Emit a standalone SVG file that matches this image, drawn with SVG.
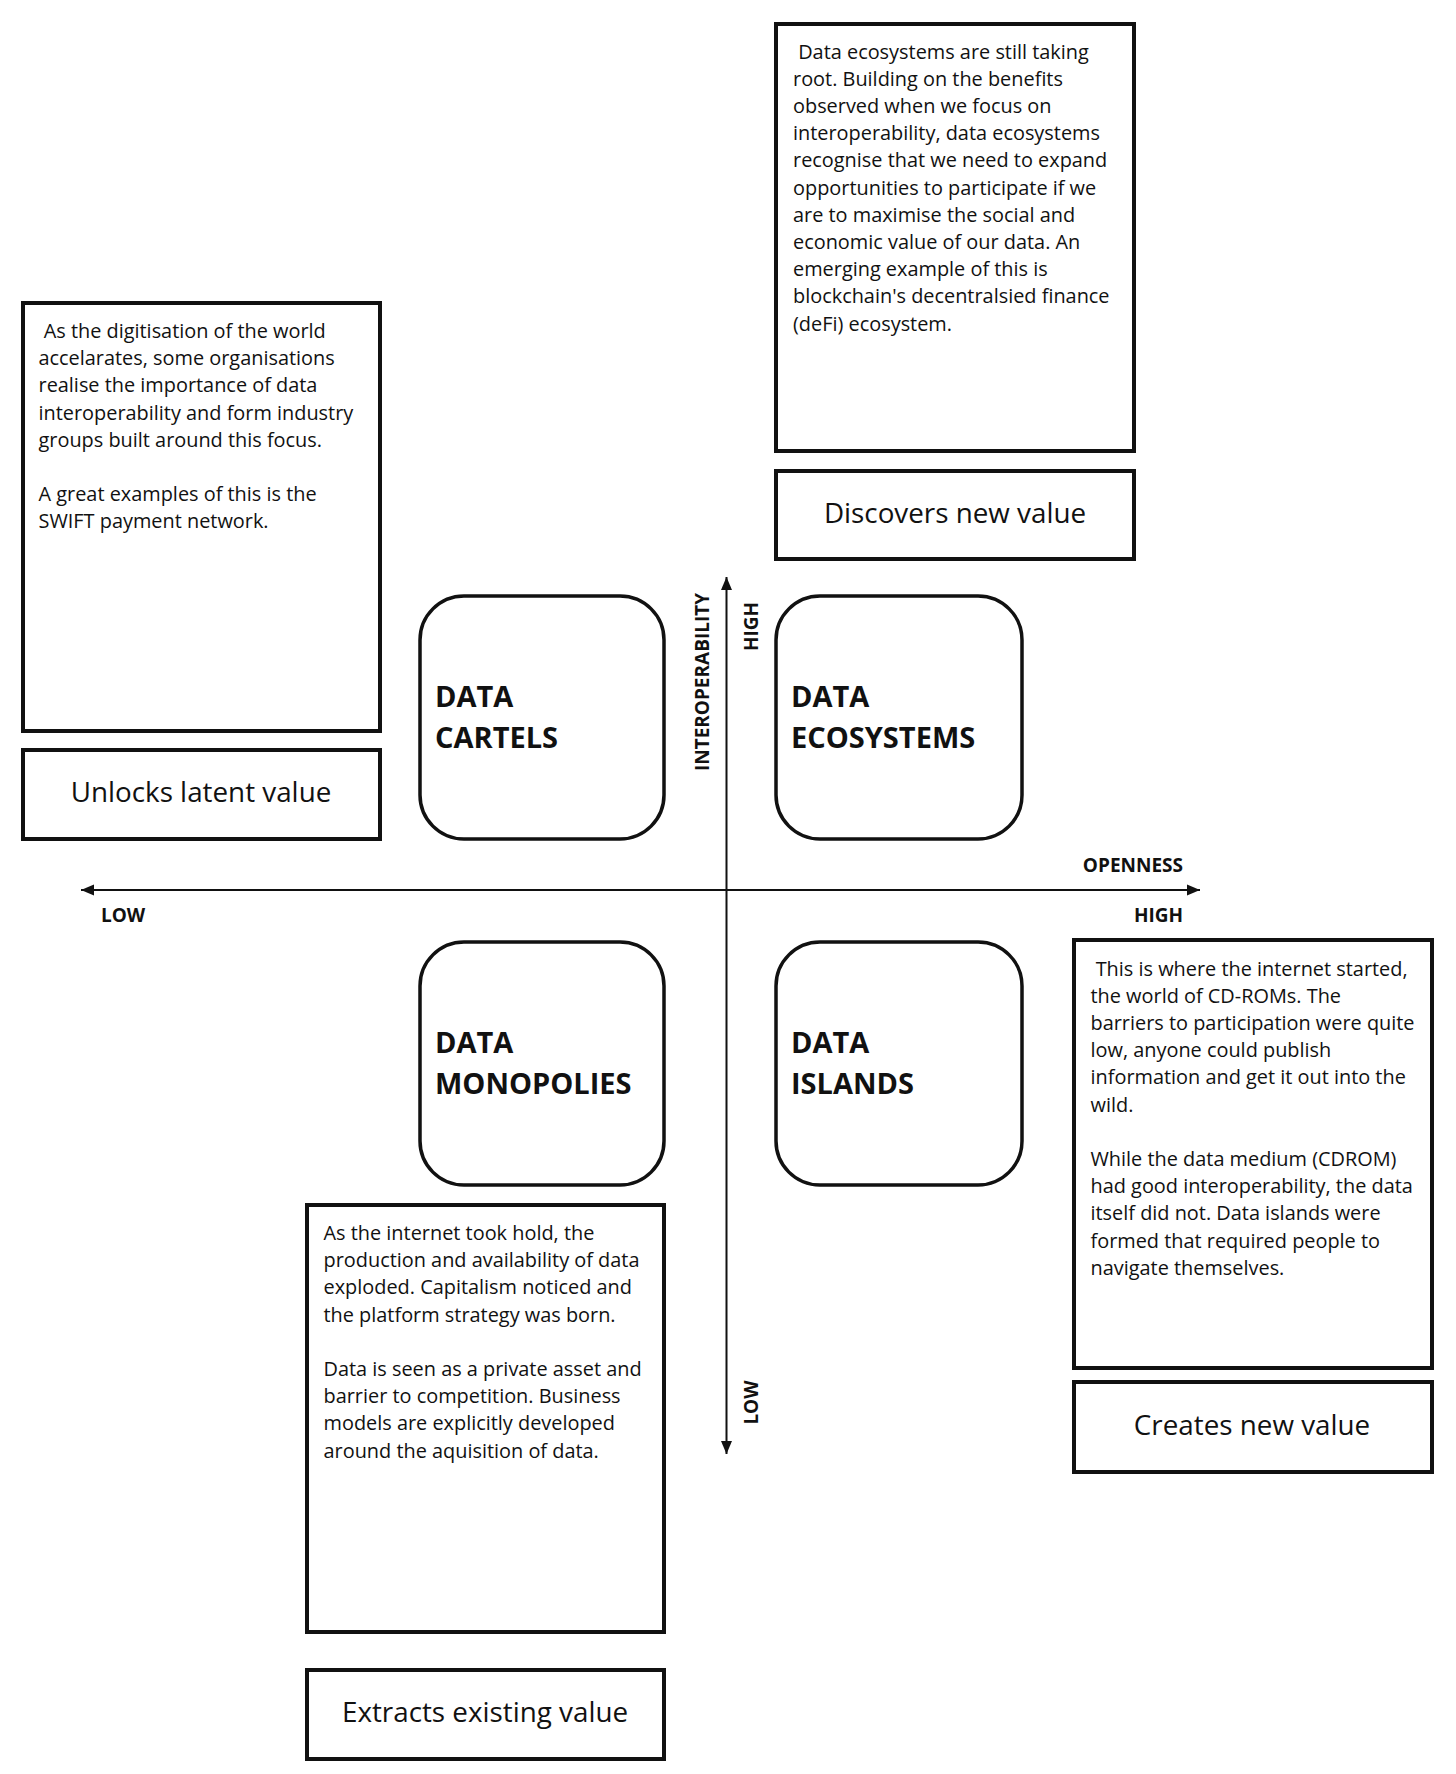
<svg xmlns="http://www.w3.org/2000/svg" width="1456" height="1774" viewBox="0 0 1456 1774">
<style>
.box{fill:#fff;stroke:#111;stroke-width:4}
.rbox{fill:#fff;stroke:#111;stroke-width:3.5}
.body{font-family:"Open Sans","Noto Sans",sans-serif;font-size:19.9px;fill:#111}
.lbl{font-family:"Open Sans","Noto Sans",sans-serif;font-size:27.8px;fill:#111;text-anchor:middle}
.quad{font-family:"Open Sans","Noto Sans",sans-serif;font-size:29px;font-weight:bold;fill:#111}
.axl{font-family:"Open Sans","Noto Sans",sans-serif;font-size:19px;font-weight:bold;fill:#111}
.axis{stroke:#111;stroke-width:2;fill:none}
</style>
<defs>
<marker id="ah" markerUnits="userSpaceOnUse" markerWidth="14" markerHeight="12" refX="13" refY="6" orient="auto">
<path d="M0,0.5 L13,6 L0,11.5 Z" fill="#111"/>
</marker>
</defs>
<rect width="1456" height="1774" fill="#fff"/>

<g id="connectors">
<line class="axis" x1="726.5" y1="890" x2="1200" y2="890" marker-end="url(#ah)"/>
<line class="axis" x1="726.5" y1="890" x2="81" y2="890" marker-end="url(#ah)"/>
<line class="axis" x1="726.5" y1="890" x2="726.5" y2="577" marker-end="url(#ah)"/>
<line class="axis" x1="726.5" y1="890" x2="726.5" y2="1454" marker-end="url(#ah)"/>
</g>

<g id="axis-labels">
<text class="axl" x="1183" y="872" text-anchor="end">OPENNESS</text>
<text class="axl" x="101" y="922">LOW</text>
<text class="axl" x="1183" y="922" text-anchor="end">HIGH</text>
<text class="axl" transform="translate(709,682) rotate(-90)" text-anchor="middle">INTEROPERABILITY</text>
<text class="axl" transform="translate(758,626.5) rotate(-90)" text-anchor="middle">HIGH</text>
<text class="axl" transform="translate(758,1402.5) rotate(-90)" text-anchor="middle">LOW</text>
</g>

<g id="data-cartels">
<rect class="rbox" x="420" y="596" width="244" height="243" rx="44"/>
<text class="quad" x="435" y="707">DATA</text>
<text class="quad" x="435" y="748">CARTELS</text>
</g>
<g id="data-ecosystems">
<rect class="rbox" x="776" y="596" width="246" height="243" rx="44"/>
<text class="quad" x="791" y="707">DATA</text>
<text class="quad" x="791" y="748">ECOSYSTEMS</text>
</g>
<g id="data-monopolies">
<rect class="rbox" x="420" y="942" width="244" height="243" rx="44"/>
<text class="quad" x="435" y="1053">DATA</text>
<text class="quad" x="435" y="1094">MONOPOLIES</text>
</g>
<g id="data-islands">
<rect class="rbox" x="776" y="942" width="246" height="243" rx="44"/>
<text class="quad" x="791" y="1053">DATA</text>
<text class="quad" x="791" y="1094">ISLANDS</text>
</g>

<g id="ecosystems-desc">
<rect class="box" x="776" y="24" width="358" height="427"/>
<text class="body" x="793" y="58.5" xml:space="preserve"> Data ecosystems are still taking</text>
<text class="body" x="793" y="85.7">root. Building on the benefits</text>
<text class="body" x="793" y="112.9">observed when we focus on</text>
<text class="body" x="793" y="140.1">interoperability, data ecosystems</text>
<text class="body" x="793" y="167.3">recognise that we need to expand</text>
<text class="body" x="793" y="194.5">opportunities to participate if we</text>
<text class="body" x="793" y="221.7">are to maximise the social and</text>
<text class="body" x="793" y="248.9">economic value of our data. An</text>
<text class="body" x="793" y="276.1">emerging example of this is</text>
<text class="body" x="793" y="303.3">blockchain's decentralsied finance</text>
<text class="body" x="793" y="330.5">(deFi) ecosystem.</text>
</g>
<g id="ecosystems-value">
<rect class="box" x="776" y="471" width="358" height="88"/>
<text class="lbl" x="955" y="522.5">Discovers new value</text>
</g>

<g id="cartels-desc">
<rect class="box" x="23" y="303" width="357" height="428"/>
<text class="body" x="38.5" y="338" xml:space="preserve"> As the digitisation of the world</text>
<text class="body" x="38.5" y="365.2">accelarates, some organisations</text>
<text class="body" x="38.5" y="392.4">realise the importance of data</text>
<text class="body" x="38.5" y="419.6">interoperability and form industry</text>
<text class="body" x="38.5" y="446.8">groups built around this focus.</text>
<text class="body" x="38.5" y="501.2">A great examples of this is the</text>
<text class="body" x="38.5" y="528.4">SWIFT payment network.</text>
</g>
<g id="cartels-value">
<rect class="box" x="23" y="750" width="357" height="89"/>
<text class="lbl" x="201" y="802">Unlocks latent value</text>
</g>

<g id="islands-desc">
<rect class="box" x="1074" y="940" width="358" height="428"/>
<text class="body" x="1090.5" y="975.5" xml:space="preserve"> This is where the internet started,</text>
<text class="body" x="1090.5" y="1002.7">the world of CD-ROMs. The</text>
<text class="body" x="1090.5" y="1029.9">barriers to participation were quite</text>
<text class="body" x="1090.5" y="1057.1">low, anyone could publish</text>
<text class="body" x="1090.5" y="1084.3">information and get it out into the</text>
<text class="body" x="1090.5" y="1111.5">wild.</text>
<text class="body" x="1090.5" y="1165.9">While the data medium (CDROM)</text>
<text class="body" x="1090.5" y="1193.1">had good interoperability, the data</text>
<text class="body" x="1090.5" y="1220.3">itself did not. Data islands were</text>
<text class="body" x="1090.5" y="1247.5">formed that required people to</text>
<text class="body" x="1090.5" y="1274.7">navigate themselves.</text>
</g>
<g id="islands-value">
<rect class="box" x="1074" y="1382" width="358" height="90"/>
<text class="lbl" x="1252" y="1434.5">Creates new value</text>
</g>

<g id="monopolies-desc">
<rect class="box" x="307" y="1205" width="357" height="427"/>
<text class="body" x="323.5" y="1240">As the internet took hold, the</text>
<text class="body" x="323.5" y="1267.2">production and availability of data</text>
<text class="body" x="323.5" y="1294.4">exploded. Capitalism noticed and</text>
<text class="body" x="323.5" y="1321.6">the platform strategy was born.</text>
<text class="body" x="323.5" y="1376">Data is seen as a private asset and</text>
<text class="body" x="323.5" y="1403.2">barrier to competition. Business</text>
<text class="body" x="323.5" y="1430.4">models are explicitly developed</text>
<text class="body" x="323.5" y="1457.6">around the aquisition of data.</text>
</g>
<g id="monopolies-value">
<rect class="box" x="307" y="1670" width="357" height="89"/>
<text class="lbl" x="485" y="1722">Extracts existing value</text>
</g>
</svg>
